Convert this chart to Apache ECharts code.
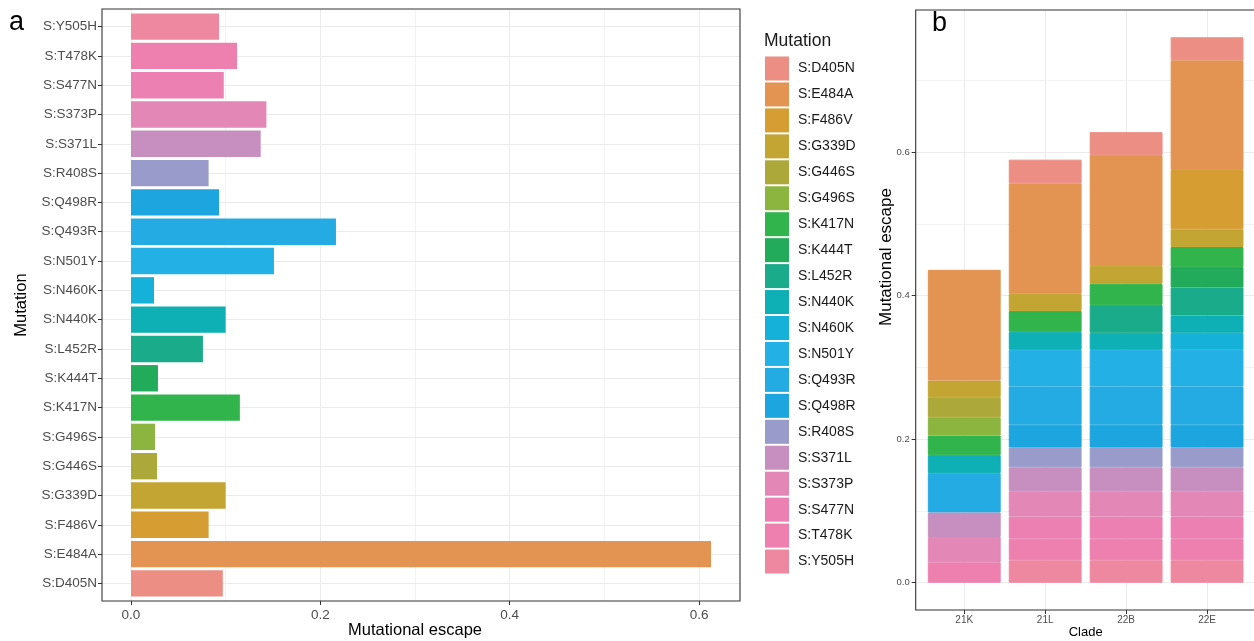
<!DOCTYPE html>
<html><head><meta charset="utf-8">
<script src="https://cdn.jsdelivr.net/npm/echarts@6/dist/echarts.min.js"></script>
<style>html,body{margin:0;padding:0;background:#fff}#c{width:1254px;height:641px}</style>
</head><body><div id="c"></div>
<script>
// ---------- data ----------
const mutations = ['S:D405N','S:E484A','S:F486V','S:G339D','S:G446S','S:G496S','S:K417N','S:K444T','S:L452R','S:N440K',
  'S:N460K','S:N501Y','S:Q493R','S:Q498R','S:R408S','S:S371L','S:S373P','S:S477N','S:T478K','S:Y505H'];
const escapeA = [0.097,0.6126,0.082,0.100,0.0275,0.0254,0.115,0.0285,0.076,0.100,
  0.0243,0.151,0.2165,0.093,0.082,0.137,0.143,0.098,0.112,0.093];
const mutationColors = ['#EC8E83','#E39452','#D59D32','#C3A533','#ADA83A','#8CB540','#31B44C','#22AB5A','#1AAC8A','#0EAFB5',
  '#15B1D9','#23B0E5','#24ABE3','#1DA5DF','#999CCB','#C78FC0','#E287B6','#EC80B2','#EE80B0','#EE87A0'];
const clades = ['21K','21L','22B','22E'];
// per-clade escape contribution, in the order of `mutations` (null = absent)
const esc21K = [null,0.1543,null,0.0232,0.0279,0.0255,0.0273,null,null,0.0251,null,null,0.0547,null,null,0.0343,0.0352,null,0.0285,null];
const esc21L = [0.033,0.154,null,0.024,null,null,0.029,null,null,0.025,null,0.051,0.0533,0.0319,0.0275,0.0333,0.0352,0.031,0.030,0.0313];
const esc22B = [0.032,0.1544,null,0.025,null,null,0.0293,null,0.0389,0.0237,null,0.051,0.0533,0.0319,0.0275,0.0333,0.0352,0.031,0.030,0.0313];
const esc22E = [0.032,0.153,0.0826,0.0246,null,null,0.028,0.0286,0.0389,0.0241,0.0237,0.051,0.0533,0.0319,0.0275,0.0333,0.0352,0.031,0.030,0.0313];
const cladeData = [esc21K, esc21L, esc22B, esc22E];

// ---------- layout ----------
const FONT = 'Liberation Sans, Arial, sans-serif';
const GRID_MAJOR = '#EBEBEB';
const frameA = {x0:102, y0:9, x1:740, y1:601};
const aXMin = -0.0306, aXMax = 0.6432;
const aW = frameA.x1 - frameA.x0, aH = frameA.y1 - frameA.y0;
const aPx = v => frameA.x0 + (v - aXMin) / (aXMax - aXMin) * aW;
const aUnit = aH / (mutations.length - 1 + 1.2);

const frameB = {x0:915.7, y0:10, x1:1255.6, y1:610};
const bYMin = -0.038, bYMax = 0.798;
const bW = frameB.x1 - frameB.x0, bH = frameB.y1 - frameB.y0;
const bPy = v => frameB.y0 + (bYMax - v) / (bYMax - bYMin) * bH;
const bUnit = bW / (clades.length - 1 + 1.2);

const hidden = {show:false};
const noLine = {show:false, onZero:false};
const tickStyle = {lineStyle:{color:'#333333', width:1}};
const G = o => Object.assign({outerBoundsMode:'none', containLabel:false}, o);

const option = {
  animation: false,
  backgroundColor: '#ffffff',
  textStyle: {fontFamily: FONT},
  title: [
    {text:'a', left:9, top:9, padding:0, textStyle:{fontSize:27, fontWeight:'normal', color:'#000', fontFamily:FONT}},
    {text:'b', left:932, top:10, padding:0, textStyle:{fontSize:27, fontWeight:'normal', color:'#000', fontFamily:FONT}},
    {text:'Mutation', left:764, top:32, padding:0, textStyle:{fontSize:17.5, fontWeight:'normal', color:'#1A1A1A', fontFamily:FONT}}
  ],
  legend: {
    orient:'vertical', left:765, top:56.5, padding:0,
    itemWidth:24, itemHeight:24, itemGap:1.95, icon:'rect', selectedMode:false,
    itemStyle:{borderWidth:0},
    data: mutations,
    textStyle:{fontSize:14, color:'#1A1A1A', fontFamily:FONT, padding:[0,0,0,4]}
  },
  grid: [
    G({left:frameA.x0, width:aW, top:frameA.y0 + 0.1*aUnit, height:mutations.length*aUnit}),
    G({left:aPx(0), width:aPx(0.6) - aPx(0), top:frameA.y0, height:aH}),
    G({left:frameA.x0, width:aW, top:frameA.y0 + 0.6*aUnit, height:(mutations.length-1)*aUnit}),
    G({left:frameB.x0 + 0.1*bUnit, width:clades.length*bUnit, top:frameB.y0, height:bH}),
    G({left:frameB.x0, width:bW, top:bPy(0.6), height:bPy(0) - bPy(0.6)}),
    G({left:frameB.x0, width:bW, top:bPy(0.7), height:bPy(0) - bPy(0.7)}),
    G({left:frameB.x0 + 0.6*bUnit, width:(clades.length-1)*bUnit, top:frameB.y0, height:bH})
  ],
  xAxis: [
    {gridIndex:0, type:'value', min:aXMin, max:aXMax, show:false},
    {gridIndex:1, type:'value', min:0, max:0.6, interval:0.2,
      axisLine:noLine, axisTick:{show:true, length:4, ...tickStyle},
      axisLabel:{fontSize:13.5, color:'#4D4D4D', margin:7, formatter:v=>v.toFixed(1), fontFamily:FONT},
      splitLine:{show:true, lineStyle:{color:GRID_MAJOR, width:1}},
      minorTick:{show:false, splitNumber:2},
      minorSplitLine:{show:true, lineStyle:{color:GRID_MAJOR, width:0.6}},
      name:'Mutational escape', nameLocation:'middle', nameGap:21, nameMoveOverlap:false,
      nameTextStyle:{fontSize:16.5, color:'#000', fontFamily:FONT}},
    {gridIndex:2, type:'value', min:0, max:1, show:false},
    {gridIndex:3, type:'category', data:clades,
      axisLine:noLine, axisTick:{show:true, length:4, alignWithLabel:true, ...tickStyle},
      axisLabel:{fontSize:10, color:'#4D4D4D', margin:5, fontFamily:FONT},
      splitLine:hidden,
      name:'Clade', nameLocation:'middle', nameGap:16, nameMoveOverlap:false,
      nameTextStyle:{fontSize:13, color:'#000', fontFamily:FONT}},
    {gridIndex:4, type:'value', min:0, max:1, show:false},
    {gridIndex:5, type:'value', min:0, max:1, show:false},
    {gridIndex:6, type:'value', min:0, max:clades.length-1, interval:1,
      axisLine:noLine, axisTick:hidden, axisLabel:hidden,
      splitLine:{show:true, lineStyle:{color:GRID_MAJOR, width:1}}}
  ],
  yAxis: [
    {gridIndex:0, type:'category', data:mutations,
      axisLine:noLine, axisTick:{show:true, length:4, alignWithLabel:true, ...tickStyle},
      axisLabel:{fontSize:13.5, color:'#4D4D4D', margin:5, interval:0, fontFamily:FONT},
      splitLine:hidden,
      name:'Mutation', nameLocation:'middle', nameGap:72,
      nameTextStyle:{fontSize:16.5, color:'#000', fontFamily:FONT}},
    {gridIndex:1, type:'value', min:0, max:1, show:false},
    {gridIndex:2, type:'value', min:0, max:mutations.length-1, interval:1,
      axisLine:noLine, axisTick:hidden, axisLabel:hidden,
      splitLine:{show:true, lineStyle:{color:GRID_MAJOR, width:1}}},
    {gridIndex:3, type:'value', min:bYMin, max:bYMax, show:false},
    {gridIndex:4, type:'value', min:0, max:0.6, interval:0.2,
      axisLine:noLine, axisTick:{show:true, length:4, ...tickStyle},
      axisLabel:{fontSize:9.5, color:'#4D4D4D', margin:6, formatter:v=>v.toFixed(1), fontFamily:FONT},
      splitLine:{show:true, lineStyle:{color:GRID_MAJOR, width:1}},
      minorTick:{show:false, splitNumber:2},
      minorSplitLine:{show:true, lineStyle:{color:GRID_MAJOR, width:0.6}}},
    {gridIndex:5, type:'value', min:0, max:0.7, interval:0.7,
      axisLine:noLine, axisTick:hidden, axisLabel:hidden,
      splitLine:{show:true, lineStyle:{color:['rgba(0,0,0,0)', GRID_MAJOR], width:0.6}}},
    {gridIndex:6, type:'value', min:0, max:1, show:false}
  ],
  graphic: [
    {type:'rect', z:100, silent:true, shape:{x:frameA.x0, y:frameA.y0, width:aW, height:aH},
      style:{fill:'none', stroke:'#333333', lineWidth:1.1}},
    {type:'rect', z:100, silent:true, shape:{x:frameB.x0, y:frameB.y0, width:bW, height:bH},
      style:{fill:'none', stroke:'#333333', lineWidth:1.1}},
    {type:'text', z:100, silent:true, x:886, y:257, rotation:Math.PI/2,
      style:{text:'Mutational escape', align:'center', verticalAlign:'middle', fontSize:17, fill:'#000', fontFamily:FONT}}
  ],
  series: []
};

// panel a: one bar per mutation
option.series.push({
  type:'bar', name:'escape', xAxisIndex:0, yAxisIndex:0, barCategoryGap:'10%', z:2,
  data: escapeA.map((v,i)=>({value:v, itemStyle:{color:mutationColors[i]}}))
});
// panel b: stacked, last mutation at bottom
for (let i = mutations.length - 1; i >= 0; i--) {
  option.series.push({
    type:'bar', name:mutations[i], stack:'clade', xAxisIndex:3, yAxisIndex:3,
    barCategoryGap:'10%', z:2,
    itemStyle:{color:mutationColors[i], borderColor:mutationColors[i], borderWidth:1},
    data: cladeData.map(arr => arr[i] == null ? '-' : arr[i])
  });
}

const chart = echarts.init(document.getElementById('c'), null, {renderer:'canvas'});
chart.setOption(option);
</script></body></html>
